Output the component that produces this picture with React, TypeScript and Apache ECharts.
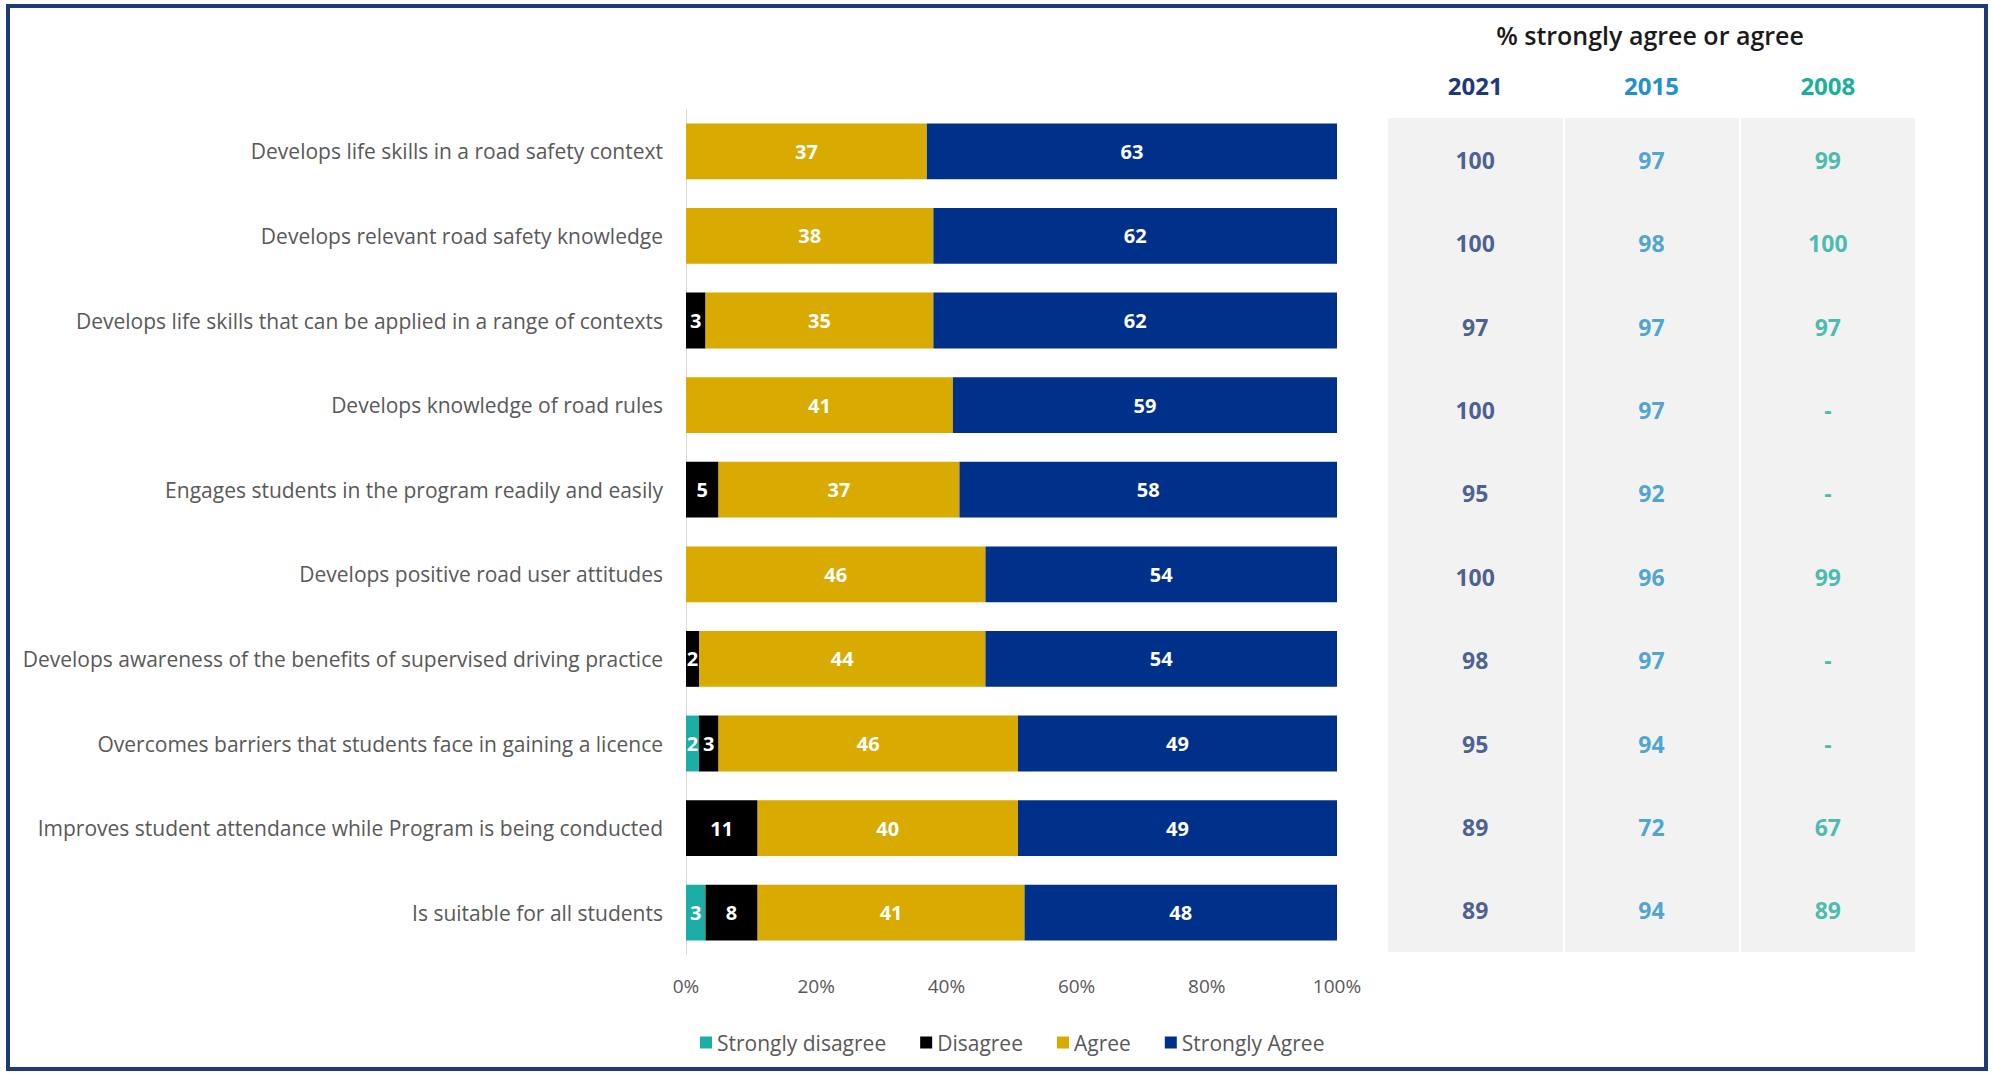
import React, { useEffect, useRef } from "react";
import * as echarts from "echarts";

const categories = [
  "Develops life skills in a road safety context",
  "Develops relevant road safety knowledge",
  "Develops life skills that can be applied in a range of contexts",
  "Develops knowledge of road rules",
  "Engages students in the program readily and easily",
  "Develops positive road user attitudes",
  "Develops awareness of the benefits of supervised driving practice",
  "Overcomes barriers that students face in gaining a licence",
  "Improves student attendance while Program is being conducted",
  "Is suitable for all students",
];

const stronglyDisagree = [0, 0, 0, 0, 0, 0, 0, 2, 0, 3];
const disagree = [0, 0, 3, 0, 5, 0, 2, 3, 11, 8];
const agree = [37, 38, 35, 41, 37, 46, 44, 46, 40, 41];
const stronglyAgree = [63, 62, 62, 59, 58, 54, 54, 49, 49, 48];

const xTicks = [0, 20, 40, 60, 80, 100];

const years = ["2021", "2015", "2008"];
const agree2021 = ["100", "100", "97", "100", "95", "100", "98", "95", "89", "89"];
const agree2015 = ["97", "98", "97", "97", "92", "96", "97", "94", "72", "94"];
const agree2008 = ["99", "100", "97", "-", "-", "99", "-", "-", "67", "89"];

const title = "% strongly agree or agree";

const FONT = "'Open Sans', 'Noto Sans', sans-serif";

export default function App() {
  const ref = useRef<HTMLDivElement>(null);

  useEffect(() => {
    if (!ref.current) return;
    const chart = echarts.init(ref.current, undefined, { renderer: "svg" });

    const segColors = ["#1BADA6", "#000000", "#D9AA00", "#00318A"];
    const segNames = ["Strongly disagree", "Disagree", "Agree", "Strongly Agree"];
    const segData = [stronglyDisagree, disagree, agree, stronglyAgree];
    const yearColors = ["#1F3A78", "#2490C9", "#1DAE9C"];
    const tableCols = [agree2021, agree2015, agree2008];

    const barSeries = segNames.map((name, k) => ({
      name,
      type: "bar",
      stack: "total",
      xAxisIndex: 0,
      yAxisIndex: 0,
      barWidth: "66%",
      itemStyle: { color: segColors[k] },
      label: {
        show: true,
        position: "inside",
        color: "#ffffff",
        fontFamily: FONT,
        fontWeight: "bold",
        fontSize: 20,
        formatter: (p: any) => (p.value ? String(p.value) : ""),
      },
      data: segData[k],
    }));

    const tableSeries = tableCols.map((col, c) => ({
      name: "y" + years[c],
      type: "scatter",
      xAxisIndex: 1,
      yAxisIndex: 1,
      symbolSize: 1,
      itemStyle: { color: "rgba(0,0,0,0)" },
      silent: true,
      label: {
        show: true,
        position: "inside",
        color: yearColors[c],
        fontFamily: FONT,
        fontWeight: "bold",
        fontSize: 23,
      },
      data: col.map((v, i) => ({ value: [c, i], label: { formatter: v } })),
    }));

    const rich: any = {};
    years.forEach((y, i) => {
      rich["y" + y] = {
        color: yearColors[i],
        fontFamily: FONT,
        fontWeight: "bold",
        fontSize: 24,
      };
    });

    chart.setOption({
      animation: false,
      backgroundColor: "#ffffff",
      textStyle: { fontFamily: FONT },
      grid: [
        { left: 686, width: 651, top: 109, height: 846 },
        {
          left: 1387,
          width: 529,
          top: 118,
          height: 834,
          show: true,
          backgroundColor: "#F2F2F2",
          borderWidth: 0,
        },
      ],
      xAxis: [
        {
          gridIndex: 0,
          type: "value",
          min: xTicks[0],
          max: xTicks[xTicks.length - 1],
          interval: xTicks[1] - xTicks[0],
          axisLine: { show: false },
          axisTick: { show: false },
          splitLine: { show: false },
          axisLabel: {
            formatter: "{value}%",
            color: "#595959",
            fontFamily: FONT,
            fontSize: 19,
            margin: 21,
          },
        },
        {
          gridIndex: 1,
          type: "category",
          position: "top",
          data: years,
          axisLine: { show: false },
          axisTick: { show: false },
          splitLine: { show: true, lineStyle: { color: "#ffffff", width: 2 } },
          axisLabel: {
            margin: 21,
            formatter: (v: string) => `{y${v}|${v}}`,
            rich,
          },
        },
      ],
      yAxis: [
        {
          gridIndex: 0,
          type: "category",
          inverse: true,
          data: categories,
          axisLine: { show: true, lineStyle: { color: "#D9D9D9", width: 1 } },
          axisTick: { show: false },
          axisLabel: {
            color: "#595959",
            fontFamily: FONT,
            fontSize: 21,
            margin: 23,
          },
        },
        {
          gridIndex: 1,
          type: "category",
          inverse: true,
          data: categories,
          show: false,
        },
      ],
      legend: {
        data: segNames,
        left: 695,
        top: 1027,
        icon: "rect",
        itemWidth: 12,
        itemHeight: 12,
        itemGap: 34,
        textStyle: { color: "#595959", fontFamily: FONT, fontSize: 21 },
      },
      graphic: [
        {
          type: "rect",
          shape: { x: 8, y: 6, width: 1978, height: 1063 },
          style: { fill: "none", stroke: "#1F3A78", lineWidth: 4 },
          silent: true,
        },
        {
          type: "text",
          x: 1650,
          y: 35,
          style: {
            text: title,
            fill: "#1a1a1a",
            font: `600 25px ${FONT}`,
            textAlign: "center",
            textVerticalAlign: "middle",
          },
        },
      ],
      series: [...barSeries, ...tableSeries],
    });

    return () => chart.dispose();
  }, []);

  return (
    <div
      ref={ref}
      style={{ position: "fixed", left: 0, top: 0, width: 1993, height: 1074 }}
    />
  );
}
